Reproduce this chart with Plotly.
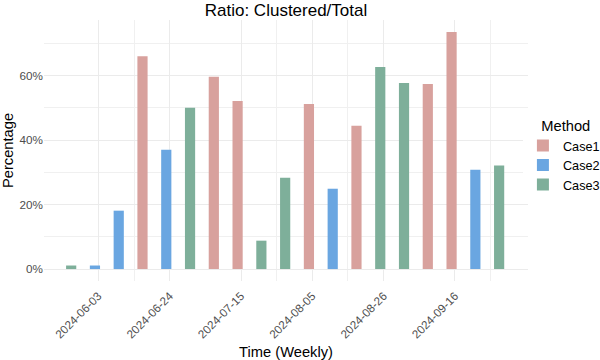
import pandas as pd
import plotly.graph_objects as go

weeks = pd.date_range("2024-05-26", periods=19, freq="7D")
method = ["Case3", "Case2", "Case2", "Case1", "Case2", "Case3", "Case1", "Case1", "Case3", "Case3",
          "Case1", "Case2", "Case1", "Case3", "Case3", "Case1", "Case1", "Case2", "Case3"]
ratio = [0.011, 0.011, 0.181, 0.660, 0.370, 0.500, 0.596, 0.521, 0.088, 0.283,
         0.512, 0.249, 0.444, 0.626, 0.577, 0.574, 0.735, 0.308, 0.321]
tick_dates = ["2024-06-03", "2024-06-24", "2024-07-15", "2024-08-05", "2024-08-26", "2024-09-16"]
minor_dates = ["2024-06-13 12:00", "2024-07-25 12:00", "2024-08-15 12:00", "2024-09-26 12:00"]
colors = {"Case1": "#D8A19D", "Case2": "#6AA6E1", "Case3": "#7EAF9A"}

df = pd.DataFrame({"week": weeks, "method": method, "ratio": ratio})

fig = go.Figure()
for m in ["Case1", "Case2", "Case3"]:
    d = df[df.method == m]
    fig.add_trace(go.Bar(x=d.week, y=d.ratio, name=m, marker_color=colors[m],
                         marker_line_width=0, width=3 * 86400000))

fig.update_layout(
    width=600, height=360,
    margin=dict(l=44, r=72, t=20, b=79, autoexpand=False),
    plot_bgcolor="white", paper_bgcolor="white",
    font=dict(family="Liberation Sans, Arial, sans-serif", color="black"),
    title=dict(text="Ratio: Clustered/Total", x=(44 + 242) / 600, xanchor="center",
               y=0.99, yanchor="top", font=dict(size=17)),
    barmode="overlay",
    # legend sits just right of the panel
    legend=dict(title=dict(text="\u00a0\u00a0\u00a0\u00a0Method", font=dict(size=14.7)),
                font=dict(size=12.7),
                x=0.9895, xanchor="left", y=0.48, yanchor="middle",
                tracegroupgap=0, itemwidth=30),
)
fig.update_xaxes(
    title=dict(text="Time (Weekly)", font=dict(size=14.7)),
    automargin=False,
    range=["2024-05-18", "2024-10-07 12:00"],
    tickmode="array", tickvals=tick_dates, ticktext=tick_dates,
    tickangle=-45, tickfont=dict(size=11.7, color="#4D4D4D"), ticklabelstandoff=5,
    showgrid=True, gridcolor="#EBEBEB", gridwidth=1, zeroline=False, showline=False,
    minor=dict(tickmode="array", tickvals=minor_dates, showgrid=True, gridcolor="#F0F0F0", gridwidth=1),
    ticks="", ticklen=0,
)
fig.update_yaxes(
    title=dict(text="Percentage", font=dict(size=14.7)),
    automargin=False,
    range=[-0.037, 0.772],
    tickvals=[0, 0.2, 0.4, 0.6], tickformat=".0%",
    tickfont=dict(size=11.7, color="#4D4D4D"),
    showgrid=True, gridcolor="#EBEBEB", gridwidth=1, zeroline=False, showline=False,
    minor=dict(tickvals=[0.1, 0.3, 0.5, 0.7], showgrid=True, gridcolor="#F0F0F0", gridwidth=1),
    ticks="",
)

fig.write_html("out.html", config={"displayModeBar": False},
               post_script="document.body.style.margin='0';")
